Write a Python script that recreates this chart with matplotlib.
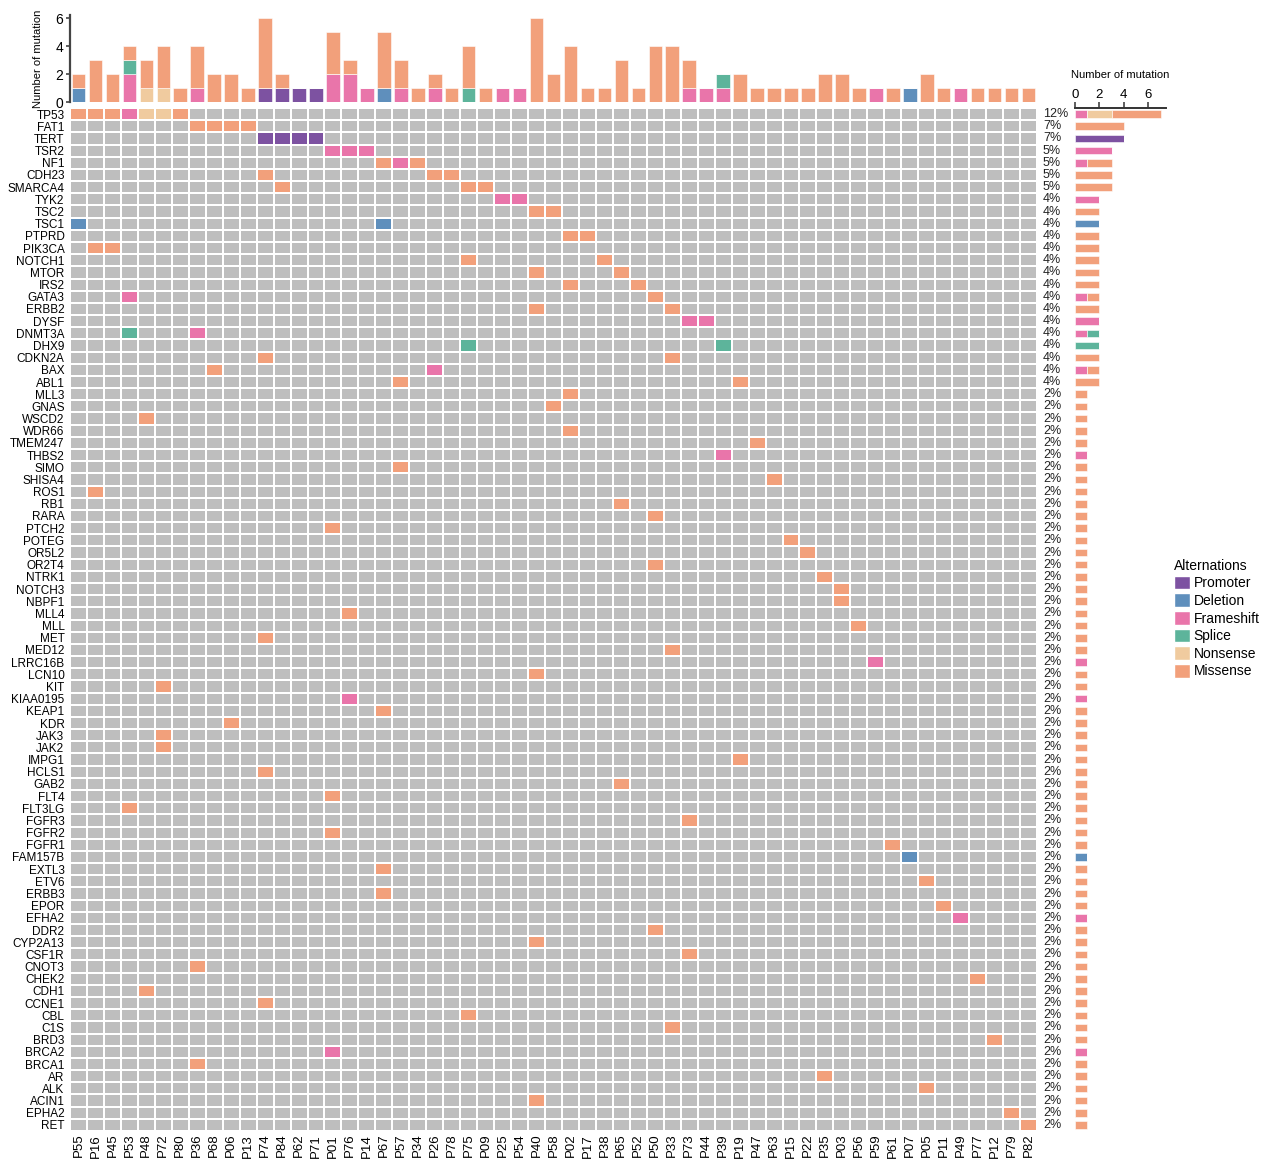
import numpy as np
import matplotlib
matplotlib.use('Agg')
import matplotlib.pyplot as plt
from matplotlib.colors import ListedColormap
from matplotlib.patches import Patch

plt.rcParams['font.family'] = ['Liberation Sans', 'DejaVu Sans']

# --- genes (rows) and samples (columns) ---
genes = ['TP53', 'FAT1', 'TERT', 'TSR2', 'NF1', 'CDH23', 'SMARCA4', 'TYK2', 'TSC2', 'TSC1',
         'PTPRD', 'PIK3CA', 'NOTCH1', 'MTOR', 'IRS2', 'GATA3', 'ERBB2', 'DYSF', 'DNMT3A', 'DHX9',
         'CDKN2A', 'BAX', 'ABL1', 'MLL3', 'GNAS', 'WSCD2', 'WDR66', 'TMEM247', 'THBS2', 'SIMO',
         'SHISA4', 'ROS1', 'RB1', 'RARA', 'PTCH2', 'POTEG', 'OR5L2', 'OR2T4', 'NTRK1', 'NOTCH3',
         'NBPF1', 'MLL4', 'MLL', 'MET', 'MED12', 'LRRC16B', 'LCN10', 'KIT', 'KIAA0195', 'KEAP1',
         'KDR', 'JAK3', 'JAK2', 'IMPG1', 'HCLS1', 'GAB2', 'FLT4', 'FLT3LG', 'FGFR3', 'FGFR2',
         'FGFR1', 'FAM157B', 'EXTL3', 'ETV6', 'ERBB3', 'EPOR', 'EFHA2', 'DDR2', 'CYP2A13', 'CSF1R',
         'CNOT3', 'CHEK2', 'CDH1', 'CCNE1', 'CBL', 'C1S', 'BRD3', 'BRCA2', 'BRCA1', 'AR',
         'ALK', 'ACIN1', 'EPHA2', 'RET']

samples = ['P55', 'P16', 'P45', 'P53', 'P48', 'P72', 'P80', 'P36', 'P68', 'P06', 'P13', 'P74',
           'P84', 'P62', 'P71', 'P01', 'P76', 'P14', 'P67', 'P57', 'P34', 'P26', 'P78', 'P75',
           'P09', 'P25', 'P54', 'P40', 'P58', 'P02', 'P17', 'P38', 'P65', 'P52', 'P50', 'P33',
           'P73', 'P44', 'P39', 'P19', 'P47', 'P63', 'P15', 'P22', 'P35', 'P03', 'P56', 'P59',
           'P61', 'P07', 'P05', 'P11', 'P49', 'P77', 'P12', 'P79', 'P82']

# --- alterations by type: (gene, sample) ---
promoter = [('TERT', 'P74'), ('TERT', 'P84'), ('TERT', 'P62'), ('TERT', 'P71')]

deletion = [('TSC1', 'P55'), ('TSC1', 'P67'), ('FAM157B', 'P07')]

frameshift = [('TP53', 'P53'), ('TSR2', 'P01'), ('TSR2', 'P76'), ('TSR2', 'P14'), ('NF1', 'P57'),
              ('TYK2', 'P25'), ('TYK2', 'P54'), ('GATA3', 'P53'), ('DYSF', 'P73'), ('DYSF', 'P44'),
              ('DNMT3A', 'P36'), ('BAX', 'P26'), ('THBS2', 'P39'), ('LRRC16B', 'P59'),
              ('KIAA0195', 'P76'), ('EFHA2', 'P49'), ('BRCA2', 'P01')]

splice = [('DNMT3A', 'P53'), ('DHX9', 'P75'), ('DHX9', 'P39')]

nonsense = [('TP53', 'P48'), ('TP53', 'P72')]

missense = [('TP53', 'P55'), ('TP53', 'P16'), ('TP53', 'P45'), ('TP53', 'P80'),
            ('FAT1', 'P36'), ('FAT1', 'P68'), ('FAT1', 'P06'), ('FAT1', 'P13'),
            ('NF1', 'P67'), ('NF1', 'P34'),
            ('CDH23', 'P74'), ('CDH23', 'P26'), ('CDH23', 'P78'),
            ('SMARCA4', 'P84'), ('SMARCA4', 'P75'), ('SMARCA4', 'P09'),
            ('TSC2', 'P40'), ('TSC2', 'P58'),
            ('PTPRD', 'P02'), ('PTPRD', 'P17'),
            ('PIK3CA', 'P16'), ('PIK3CA', 'P45'),
            ('NOTCH1', 'P75'), ('NOTCH1', 'P38'),
            ('MTOR', 'P40'), ('MTOR', 'P65'),
            ('IRS2', 'P02'), ('IRS2', 'P52'),
            ('GATA3', 'P50'),
            ('ERBB2', 'P40'), ('ERBB2', 'P33'),
            ('CDKN2A', 'P74'), ('CDKN2A', 'P33'),
            ('BAX', 'P68'),
            ('ABL1', 'P57'), ('ABL1', 'P19'),
            ('MLL3', 'P02'), ('GNAS', 'P58'), ('WSCD2', 'P48'), ('WDR66', 'P02'),
            ('TMEM247', 'P47'), ('SIMO', 'P57'), ('SHISA4', 'P63'), ('ROS1', 'P16'),
            ('RB1', 'P65'), ('RARA', 'P50'), ('PTCH2', 'P01'), ('POTEG', 'P15'),
            ('OR5L2', 'P22'), ('OR2T4', 'P50'), ('NTRK1', 'P35'), ('NOTCH3', 'P03'),
            ('NBPF1', 'P03'), ('MLL4', 'P76'), ('MLL', 'P56'), ('MET', 'P74'),
            ('MED12', 'P33'), ('LCN10', 'P40'), ('KIT', 'P72'), ('KEAP1', 'P67'),
            ('KDR', 'P06'), ('JAK3', 'P72'), ('JAK2', 'P72'), ('IMPG1', 'P19'),
            ('HCLS1', 'P74'), ('GAB2', 'P65'), ('FLT4', 'P01'), ('FLT3LG', 'P53'),
            ('FGFR3', 'P73'), ('FGFR2', 'P01'), ('FGFR1', 'P61'), ('EXTL3', 'P67'),
            ('ETV6', 'P05'), ('ERBB3', 'P67'), ('EPOR', 'P11'), ('DDR2', 'P50'),
            ('CYP2A13', 'P40'), ('CSF1R', 'P73'), ('CNOT3', 'P36'), ('CHEK2', 'P77'),
            ('CDH1', 'P48'), ('CCNE1', 'P74'), ('CBL', 'P75'), ('C1S', 'P33'),
            ('BRD3', 'P12'), ('BRCA1', 'P36'), ('AR', 'P35'), ('ALK', 'P05'),
            ('ACIN1', 'P40'), ('EPHA2', 'P79'), ('RET', 'P82')]

alt_names = ['Promoter', 'Deletion', 'Frameshift', 'Splice', 'Nonsense', 'Missense']
alt_lists = [promoter, deletion, frameshift, splice, nonsense, missense]
alt_colors = ['#7D52A1', '#5F8FBC', '#E975AA', '#5DB49B', '#F0CB9F', '#F2A07B']
empty_color = '#BEBEBE'

# --- build matrix ---
n_g, n_s = len(genes), len(samples)
mat = np.zeros((n_g, n_s), dtype=int)
for k, lst in enumerate(alt_lists):
    for g, s in lst:
        mat[genes.index(g), samples.index(s)] = k + 1

# counts per sample / per gene by type
per_sample = np.array([(mat == k + 1).sum(axis=0) for k in range(6)])
per_gene = np.array([(mat == k + 1).sum(axis=1) for k in range(6)])

W, H = 1266, 1159
fig = plt.figure(figsize=(W / 100, H / 100), dpi=100)

def px(l, t, r, b):
    return [l / W, 1 - b / H, (r - l) / W, (b - t) / H]

ax = fig.add_axes(px(70, 108, 1037, 1131))
ax_top = fig.add_axes(px(70, 15, 1037, 102))
ax_side = fig.add_axes(px(1075, 108, 1166, 1131))

# --- heatmap ---
cmap = ListedColormap([empty_color] + alt_colors)
ax.pcolormesh(np.arange(n_s + 1), np.arange(n_g + 1), mat, cmap=cmap, vmin=-0.5, vmax=6.5,
              edgecolors='white', linewidth=1.3)
ax.set_xlim(0, n_s)
ax.set_ylim(n_g, 0)
ax.set_xticks(np.arange(n_s) + 0.5)
ax.set_xticklabels(samples, rotation=90, fontsize=9.5)
ax.set_yticks(np.arange(n_g) + 0.5)
ax.set_yticklabels(genes, fontsize=8.5)
ax.tick_params(axis='y', length=0, pad=4)
ax.tick_params(axis='x', length=0, pad=2)
for sp in ax.spines.values():
    sp.set_visible(False)

# percentage of samples mutated per gene
for i in range(n_g):
    pct = per_gene[:, i].sum() / n_s * 100
    ax.text(n_s + 0.35, i + 0.5, f'{pct:.0f}%', va='center', ha='left', fontsize=9,
            color='#222222', clip_on=False)

# --- top bars: mutations per sample ---
x = np.arange(n_s) + 0.5
bottom = np.zeros(n_s)
for k in range(6):
    ax_top.bar(x, per_sample[k], width=0.8, bottom=bottom, color=alt_colors[k],
               edgecolor='white', linewidth=0.4)
    bottom += per_sample[k]
ax_top.set_xlim(0, n_s)
ax_top.set_ylim(0, 6.25)
ax_top.set_yticks([0, 2, 4, 6])
ax_top.tick_params(axis='y', labelsize=10, length=3, width=1.2, color='#444444', pad=2)
ax_top.set_xticks([])
for sp in ['top', 'right', 'bottom']:
    ax_top.spines[sp].set_visible(False)
ax_top.spines['left'].set_linewidth(1.6)
ax_top.spines['left'].set_color('#444444')
ax_top.set_ylabel('Number of mutation', fontsize=8, labelpad=9)

# --- side bars: mutations per gene ---
y = np.arange(n_g) + 0.5
left = np.zeros(n_g)
for k in range(6):
    ax_side.barh(y, per_gene[k], height=0.62, left=left, color=alt_colors[k],
                 edgecolor='white', linewidth=0.4)
    left += per_gene[k]
ax_side.set_ylim(n_g, 0)
ax_side.set_xlim(0, 7.45)
ax_side.set_xticks([0, 2, 4, 6])
ax_side.xaxis.tick_top()
ax_side.xaxis.set_label_position('top')
ax_side.set_xlabel('Number of mutation', fontsize=8, labelpad=8)
ax_side.tick_params(axis='x', labelsize=9.5, length=4, width=1.1, color='#333333', pad=1)
ax_side.set_yticks([])
for sp in ['right', 'bottom', 'left']:
    ax_side.spines[sp].set_visible(False)
ax_side.spines['top'].set_linewidth(1.4)
ax_side.spines['top'].set_color('#333333')

# --- legend ---
handles = [Patch(facecolor=c, edgecolor='white', label=n) for n, c in zip(alt_names, alt_colors)]
fig.legend(handles=handles, title='Alternations', loc='upper left',
           bbox_to_anchor=(1168 / W, 1 - 553 / H), frameon=False, fontsize=10,
           title_fontsize=10, handlelength=1.15, handleheight=1.15, labelspacing=0.22,
           handletextpad=0.3, alignment='left', borderaxespad=0)

fig.savefig('out.png', dpi=100)
